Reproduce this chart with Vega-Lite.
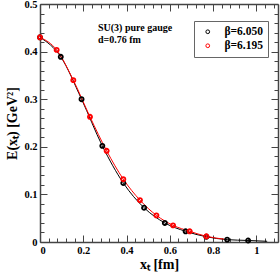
{
  "$schema": "https://vega.github.io/schema/vega-lite/v6.json",
  "width": 238,
  "height": 238,
  "autosize": {"type": "none"},
  "padding": {"left": 40, "top": 4, "right": 2, "bottom": 30},
  "background": "white",
  "config": {
    "view": {"stroke": null},
    "font": "Liberation Serif",
    "axis": {
      "labelFont": "Liberation Serif",
      "labelFontWeight": "bold",
      "labelFontSize": 10.5,
      "labelColor": "black",
      "titleFont": "Liberation Serif",
      "titleFontWeight": "bold",
      "titleFontSize": 14,
      "titleColor": "black",
      "domainColor": "#444",
      "domainWidth": 1.5,
      "tickColor": "#444",
      "tickWidth": 1,
      "grid": false
    }
  },
  "datasets": {
    "curves": [
      {"beta": "β=6.050", "x": 0, "y": 0.430},
      {"beta": "β=6.050", "x": 0.096, "y": 0.389},
      {"beta": "β=6.050", "x": 0.192, "y": 0.300},
      {"beta": "β=6.050", "x": 0.288, "y": 0.202},
      {"beta": "β=6.050", "x": 0.385, "y": 0.124},
      {"beta": "β=6.050", "x": 0.481, "y": 0.072},
      {"beta": "β=6.050", "x": 0.577, "y": 0.040},
      {"beta": "β=6.050", "x": 0.673, "y": 0.0225},
      {"beta": "β=6.050", "x": 0.769, "y": 0.011},
      {"beta": "β=6.050", "x": 0.865, "y": 0.005},
      {"beta": "β=6.050", "x": 0.962, "y": 0.0032},
      {"beta": "β=6.050", "x": 1.05, "y": 0.0015},
      {"beta": "β=6.195", "x": 0, "y": 0.430},
      {"beta": "β=6.195", "x": 0.077, "y": 0.4036},
      {"beta": "β=6.195", "x": 0.154, "y": 0.340},
      {"beta": "β=6.195", "x": 0.231, "y": 0.263},
      {"beta": "β=6.195", "x": 0.308, "y": 0.1916},
      {"beta": "β=6.195", "x": 0.385, "y": 0.132},
      {"beta": "β=6.195", "x": 0.462, "y": 0.088},
      {"beta": "β=6.195", "x": 0.538, "y": 0.056},
      {"beta": "β=6.195", "x": 0.615, "y": 0.035},
      {"beta": "β=6.195", "x": 0.692, "y": 0.0225},
      {"beta": "β=6.195", "x": 0.769, "y": 0.012},
      {"beta": "β=6.195", "x": 0.85, "y": 0.006}
    ],
    "points": [
      {"beta": "β=6.050", "x": 0, "y": 0.430},
      {"beta": "β=6.050", "x": 0.096, "y": 0.389},
      {"beta": "β=6.050", "x": 0.192, "y": 0.300},
      {"beta": "β=6.050", "x": 0.288, "y": 0.202},
      {"beta": "β=6.050", "x": 0.385, "y": 0.124},
      {"beta": "β=6.050", "x": 0.481, "y": 0.072},
      {"beta": "β=6.050", "x": 0.577, "y": 0.040},
      {"beta": "β=6.050", "x": 0.673, "y": 0.0225},
      {"beta": "β=6.050", "x": 0.769, "y": 0.011},
      {"beta": "β=6.050", "x": 0.865, "y": 0.005},
      {"beta": "β=6.050", "x": 0.962, "y": 0.0032},
      {"beta": "β=6.195", "x": 0, "y": 0.430},
      {"beta": "β=6.195", "x": 0.077, "y": 0.4036},
      {"beta": "β=6.195", "x": 0.154, "y": 0.340},
      {"beta": "β=6.195", "x": 0.231, "y": 0.263},
      {"beta": "β=6.195", "x": 0.308, "y": 0.1916},
      {"beta": "β=6.195", "x": 0.385, "y": 0.132},
      {"beta": "β=6.195", "x": 0.462, "y": 0.088},
      {"beta": "β=6.195", "x": 0.538, "y": 0.056},
      {"beta": "β=6.195", "x": 0.615, "y": 0.035},
      {"beta": "β=6.195", "x": 0.692, "y": 0.0225},
      {"beta": "β=6.195", "x": 0.769, "y": 0.012}
    ],
    "notes": [
      {"label": "SU(3) pure gauge", "x": 0.268, "y": 0.4505},
      {"label": "d=0.76 fm", "x": 0.268, "y": 0.4246}
    ]
  },
  "resolve": {"axis": {"x": "independent", "y": "independent"}},
  "layer": [
    {
      "data": {"name": "curves"},
      "mark": {"type": "line", "interpolate": "monotone", "strokeWidth": 1},
      "encoding": {
        "x": {"field": "x", "type": "quantitative",
          "scale": {"domain": [0, 1.1], "nice": false, "zero": false},
          "axis": {"orient": "bottom", "values": [0, 0.2, 0.4, 0.6, 0.8, 1], "format": "~g", "tickSize": -7, "labelPadding": 10, "title": "xₜ [fm]", "titlePadding": 2}},
        "y": {"field": "y", "type": "quantitative",
          "scale": {"domain": [0, 0.5], "nice": false},
          "axis": {"orient": "left", "values": [0, 0.1, 0.2, 0.3, 0.4, 0.5], "format": "~g", "tickSize": -7, "labelPadding": 10, "title": "E(xₜ) [GeV²]", "titlePadding": 4}},
        "color": {"field": "beta", "type": "nominal", "scale": {"domain": ["β=6.050", "β=6.195"], "range": ["black", "red"]}}
      }
    },
    {
      "data": {"name": "points"},
      "mark": {"type": "point", "shape": "circle", "filled": false, "size": 17, "strokeWidth": 1.8, "opacity": 1},
      "encoding": {
        "x": {"field": "x", "type": "quantitative",
          "axis": {"orient": "bottom", "values": [0.04,0.08,0.12,0.16,0.24,0.28,0.32,0.36,0.44,0.48,0.52,0.56,0.64,0.68,0.72,0.76,0.84,0.88,0.92,0.96,1.04,1.08], "labels": false, "domain": false, "tickSize": -4, "title": null}},
        "y": {"field": "y", "type": "quantitative",
          "axis": {"orient": "left", "values": [0.02,0.04,0.06,0.08,0.12,0.14,0.16,0.18,0.22,0.24,0.26,0.28,0.32,0.34,0.36,0.38,0.42,0.44,0.46,0.48], "labels": false, "domain": false, "tickSize": -4, "title": null}},
        "color": {"field": "beta", "type": "nominal", "scale": {"domain": ["β=6.050", "β=6.195"], "range": ["black", "red"]},
          "legend": {"title": null, "orient": "none", "legendX": 154, "legendY": 17, "strokeColor": "#666", "fillColor": "white", "padding": 5, "labelFont": "Liberation Serif", "labelFontWeight": "bold", "labelFontSize": 11.5, "labelColor": "black", "symbolSize": 14, "symbolStrokeWidth": 1, "symbolType": "circle", "rowPadding": 1, "labelOffset": 11, "symbolOffset": 3}}
      }
    },
    {
      "data": {"name": "notes"},
      "mark": {"type": "text", "align": "left", "baseline": "middle", "font": "Liberation Serif", "fontWeight": "bold", "fontSize": 10},
      "encoding": {
        "x": {"field": "x", "type": "quantitative",
          "axis": {"orient": "top", "values": [0, 0.2, 0.4, 0.6, 0.8, 1], "labels": false, "tickSize": -7, "title": null}},
        "y": {"field": "y", "type": "quantitative",
          "axis": {"orient": "right", "values": [0, 0.1, 0.2, 0.3, 0.4, 0.5], "labels": false, "tickSize": -7, "title": null}},
        "text": {"field": "label"}
      }
    },
    {
      "data": {"name": "notes"},
      "mark": {"type": "text", "opacity": 0},
      "encoding": {
        "x": {"field": "x", "type": "quantitative",
          "axis": {"orient": "top", "values": [0.04,0.08,0.12,0.16,0.24,0.28,0.32,0.36,0.44,0.48,0.52,0.56,0.64,0.68,0.72,0.76,0.84,0.88,0.92,0.96,1.04,1.08], "labels": false, "domain": false, "tickSize": -4, "title": null}},
        "y": {"field": "y", "type": "quantitative",
          "axis": {"orient": "right", "values": [0.02,0.04,0.06,0.08,0.12,0.14,0.16,0.18,0.22,0.24,0.26,0.28,0.32,0.34,0.36,0.38,0.42,0.44,0.46,0.48], "labels": false, "domain": false, "tickSize": -4, "title": null}},
        "text": {"field": "label"}
      }
    }
  ]
}
